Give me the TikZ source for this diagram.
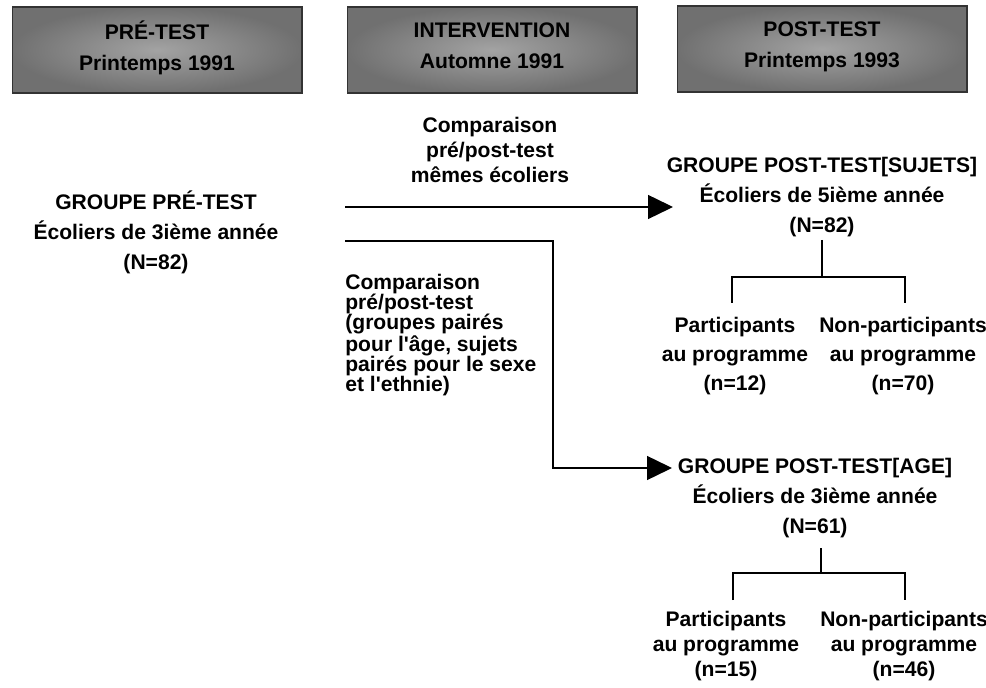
\documentclass[tikz,border=0pt]{standalone}
\usepackage{fontspec}
\setmainfont{Liberation Sans}
\usepackage{tikz}
\usetikzlibrary{arrows.meta, positioning}

\tikzset{
    entete/.style={rectangle, draw=black!80, line width=0.6pt, inner color=black!36, outer color=black!56,
        minimum width=5.8cm, minimum height=1.72cm, align=center, inner sep=0pt,
        font=\fontsize{12}{18}\selectfont\bfseries},
    groupe/.style={align=center, inner sep=0pt, font=\fontsize{12}{17}\selectfont\bfseries},
    fleche/.style={line width=0.8pt, -{Triangle[length=0.5cm, width=0.48cm]}},
    trait/.style={line width=0.8pt}
}

\begin{document}
\begin{tikzpicture}[x=0.02cm, y=-0.02cm]
            \useasboundingbox (0, 0) rectangle (986, 688);

            \node[entete] (hpre) at (157, 50) {PRÉ-TEST\\Printemps 1991\\[-13pt]};
            \node[entete] (hint) at (492, 50) {INTERVENTION\\Automne 1991\\[-13pt]};
            \node[entete] (hpost) at (822, 49) {POST-TEST\\Printemps 1993\\[-13pt]};

            \node[groupe] (pre) at (156, 232) {GROUPE PRÉ-TEST\\Écoliers de 3ième année\\(N=82)};
            \node[groupe] (sujets) at (822, 197) {GROUPE POST-TEST[SUJETS]\\Écoliers de 5ième année\\(N=82)};
            \node[groupe] (age) at (815, 498) {GROUPE POST-TEST[AGE]\\Écoliers de 3ième année\\(N=61)};

            \node[groupe, font=\fontsize{12}{14}\selectfont\bfseries] (compA) at (490, 150) {Comparaison\\pré/post-test\\mêmes écoliers};
            \node[groupe, align=left, anchor=west, font=\fontsize{12}{11.4}\selectfont\bfseries] (compB) at (345, 335)
                {Comparaison\\pré/post-test\\(groupes pairés\\pour l\textquotesingle âge, sujets\\pairés pour le sexe\\et l\textquotesingle ethnie)};

            \node[groupe, font=\fontsize{12}{16.5}\selectfont\bfseries] (partA) at (735, 356) {Participants\\au programme\\(n=12)};
            \node[groupe, font=\fontsize{12}{16.5}\selectfont\bfseries] (nonA) at (903, 356) {Non-participants\\au programme\\(n=70)};
            \node[groupe, font=\fontsize{12}{14.2}\selectfont\bfseries] (partB) at (726, 646) {Participants\\au programme\\(n=15)};
            \node[groupe, font=\fontsize{12}{14.2}\selectfont\bfseries] (nonB) at (904, 646) {Non-participants\\au programme\\(n=46)};

            % depart des deux comparaisons
            \coordinate (depA) at (345, 207);
            \coordinate (finA) at (673, 207);
            \coordinate (depB) at (345, 241);
            \coordinate (coude) at (553, 468);
            \coordinate (finB) at (672, 468);

            \draw[fleche] (depA) -- (finA);
            \draw[fleche] (depB) -| (coude) -- (finB);

            % embranchements
            \coordinate (tA) at (822, 240);
            \coordinate (brA) at (822, 277);
            \coordinate (jA1) at (732, 303);
            \coordinate (jA2) at (905, 303);
            \coordinate (tB) at (821, 548);
            \coordinate (brB) at (821, 573);
            \coordinate (jB1) at (733, 600);
            \coordinate (jB2) at (905, 600);

            \draw[trait] (tA) -- (brA);
            \draw[trait] (jA1) |- (brA) -| (jA2);
            \draw[trait] (tB) -- (brB);
            \draw[trait] (jB1) |- (brB) -| (jB2);
        \end{tikzpicture}
\end{document}
